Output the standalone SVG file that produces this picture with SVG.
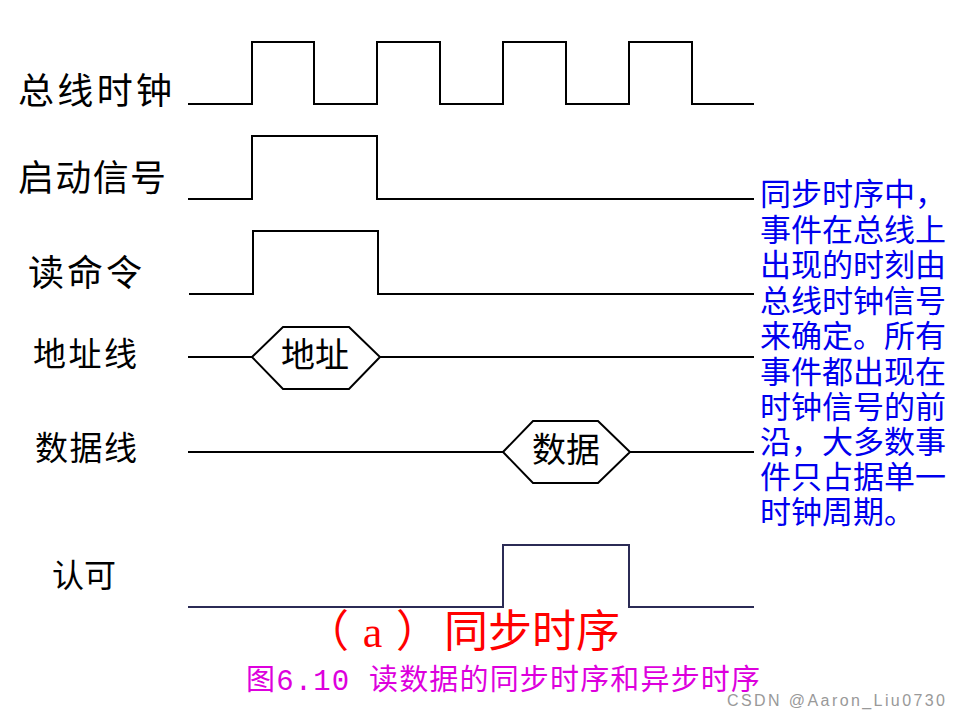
<svg xmlns="http://www.w3.org/2000/svg" width="960" height="720" viewBox="0 0 960 720">
<style>
.sig{fill:none;stroke:#000;stroke-width:2}
.ack{fill:none;stroke:#2b2b55;stroke-width:2}
.lbl{font-family:"Liberation Serif","Noto Sans CJK SC",serif;fill:#000}
.blue{font-family:"Liberation Serif","Noto Sans CJK SC",serif;fill:#0000ee;font-size:31px}
.red{font-family:"Liberation Serif","Noto Sans CJK SC",serif;fill:#ff0000;font-size:44px}
</style>
<rect width="960" height="720" fill="#fff"/>
<g id="labels">
<text class="lbl" x="18" y="96" font-size="36" dominant-baseline="middle" textLength="154">总线时钟</text>
<text class="lbl" x="18" y="183" font-size="36" dominant-baseline="middle" textLength="148">启动信号</text>
<text class="lbl" x="28" y="278" font-size="36" dominant-baseline="middle" textLength="114">读命令</text>
<text class="lbl" x="33" y="358" font-size="33" dominant-baseline="middle" textLength="104">地址线</text>
<text class="lbl" x="35" y="452" font-size="33" dominant-baseline="middle" textLength="102">数据线</text>
<text class="lbl" x="52" y="580" font-size="32" dominant-baseline="middle" textLength="64">认可</text>
</g>
<g id="connectors">
<g id="clock"><polyline class="sig" points="188,104 252,104 252,42 314,42 314,104 377,104 377,42 440,42 440,104 503,104 503,42 566,42 566,104 629,104 629,42 692,42 692,104 754,104"/></g>
<g id="start"><polyline class="sig" points="188,199 252,199 252,136 377,136 377,199 754,199"/></g>
<g id="read"><polyline class="sig" points="189,294 253,294 253,231 378,231 378,294 754,294"/></g>
<g id="addr"><line class="sig" x1="188" y1="357" x2="252" y2="357"/><line class="sig" x1="380" y1="357" x2="754" y2="357"/></g>
<g id="data"><line class="sig" x1="188" y1="452" x2="503" y2="452"/><line class="sig" x1="630" y1="452" x2="754" y2="452"/></g>
<g id="ackline"><polyline class="ack" points="188,607 503,607 503,545 629,545 629,607 754,607"/></g>
</g>
<g id="addr-hex">
<polygon class="sig" points="252,357 283,327 349,327 380,357 349,389 283,389"/>
<text class="lbl" x="315" y="359" font-size="34" text-anchor="middle" dominant-baseline="middle">地址</text>
</g>
<g id="data-hex">
<polygon class="sig" points="503,452 533,421 598,421 630,452 598,483 533,483"/>
<text class="lbl" x="566" y="454" font-size="34" text-anchor="middle" dominant-baseline="middle">数据</text>
</g>
<g id="note">
<text class="blue" x="760" y="198" dominant-baseline="middle">同步时序中，</text>
<text class="blue" x="760" y="234" dominant-baseline="middle">事件在总线上</text>
<text class="blue" x="760" y="269" dominant-baseline="middle">出现的时刻由</text>
<text class="blue" x="760" y="305" dominant-baseline="middle">总线时钟信号</text>
<text class="blue" x="760" y="340" dominant-baseline="middle">来确定。所有</text>
<text class="blue" x="760" y="376" dominant-baseline="middle">事件都出现在</text>
<text class="blue" x="760" y="411" dominant-baseline="middle">时钟信号的前</text>
<text class="blue" x="760" y="446" dominant-baseline="middle">沿，大多数事</text>
<text class="blue" x="760" y="481" dominant-baseline="middle">件只占据单一</text>
<text class="blue" x="760" y="516" dominant-baseline="middle">时钟周期。</text>
</g>
<g id="captions">
<text class="red" x="305" y="637" dominant-baseline="middle"><tspan textLength="135">（a）</tspan><tspan x="444">同步时序</tspan></text>
<text x="246" y="682" font-size="29" fill="#dd00dd" font-family="Liberation Mono,Noto Sans CJK SC,monospace" dominant-baseline="middle" textLength="514">图6.10 读数据的同步时序和异步时序</text>
<text x="727" y="702" font-size="16" fill="#999" font-family="Liberation Sans,Noto Sans,sans-serif" dominant-baseline="middle" textLength="218">CSDN @Aaron_Liu0730</text>
</g>
</svg>
